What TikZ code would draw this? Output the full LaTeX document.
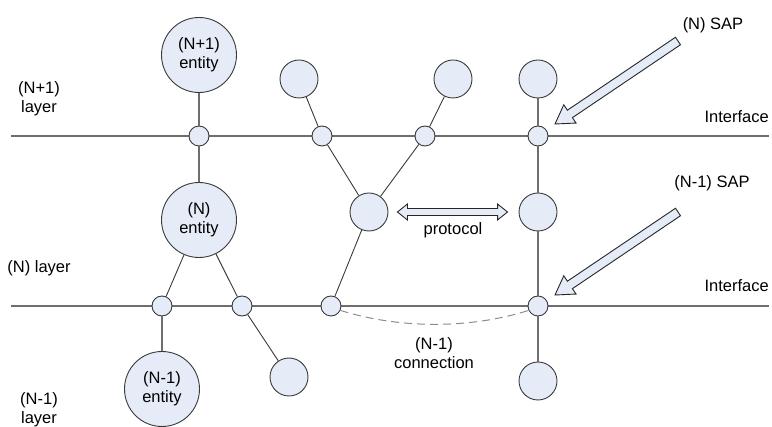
\documentclass[tikz,border=0pt]{standalone}
\usepackage{fontspec}
\setmainfont{Liberation Sans}
\usetikzlibrary{calc}
\definecolor{fillblue}{HTML}{E5ECF7}
\definecolor{rulegray}{HTML}{6E6E6E}
\definecolor{edgegray}{HTML}{3A3A3A}
\definecolor{dashgray}{HTML}{8C8C8C}
\tikzset{
  ent/.style={circle, draw=edgegray, fill=fillblue, line width=0.9pt,
    minimum size=75pt, inner sep=0pt, align=center,
    font=\fontsize{16.5}{19}\selectfont},
  midc/.style={ent, minimum size=38pt},
  sappt/.style={ent, minimum size=20pt},
  link/.style={draw=edgegray, line width=0.9pt},
  vlink/.style={draw=rulegray, line width=1.3pt},
  iface/.style={draw=rulegray, line width=1.4pt},
  lbl/.style={font=\fontsize{16.5}{19}\selectfont, align=center, inner sep=0pt},
  blockarrow/.style={draw=black!85, fill=fillblue, line width=0.9pt, line join=miter},
}
% hollow single-headed arrow: tail, tip, shaft half width, head half width, head length
\newcommand\fatarrow[5]{%
  \coordinate (fa-c) at ($(#2)!#5!(#1)$);
  \draw[blockarrow] ($(#1)!#3!90:(#2)$) -- ($(fa-c)!#3!90:(#2)$)
    -- ($(fa-c)!#4!90:(#2)$) -- (#2) -- ($(fa-c)!#4!-90:(#2)$)
    -- ($(fa-c)!#3!-90:(#2)$) -- ($(#1)!#3!-90:(#2)$) -- cycle;}
% hollow double-headed arrow: end, end, shaft half width, head half width, head length
\newcommand\fatdarrow[5]{%
  \coordinate (fd-a) at ($(#1)!#5!(#2)$);
  \coordinate (fd-b) at ($(#2)!#5!(#1)$);
  \draw[blockarrow] (#1) -- ($(fd-a)!#4!90:(#2)$) -- ($(fd-a)!#3!90:(#2)$)
    -- ($(fd-b)!#3!90:(#2)$) -- ($(fd-b)!#4!90:(#2)$) -- (#2)
    -- ($(fd-b)!#4!-90:(#2)$) -- ($(fd-b)!#3!-90:(#2)$)
    -- ($(fd-a)!#3!-90:(#2)$) -- ($(fd-a)!#4!-90:(#2)$) -- cycle;}
\begin{document}
\begin{tikzpicture}[x=1pt,y=-1pt]
\useasboundingbox (0,0) rectangle (772,427);

% interface lines
\coordinate (upL) at (11,136);  \coordinate (upR) at (769,136);
\coordinate (loL) at (11,306);  \coordinate (loR) at (769,306);
\draw[iface] (upL) -- (upR);
\draw[iface] (loL) -- (loR);

% entities
\node[ent]   (e1)  at (199,55)  {(N+1)\\entity};
\node[ent]   (e0)  at (199,220) {(N)\\entity};
\node[ent]   (em)  at (162,389) {(N-1)\\entity};
\node[midc]  (ta)  at (299,79)  {};
\node[midc]  (tb)  at (453,79)  {};
\node[midc]  (tc)  at (538,79)  {};
\node[midc]  (ma)  at (369,212) {};
\node[midc]  (mb)  at (538,212) {};
\node[midc]  (ba)  at (289,377) {};
\node[midc]  (bb)  at (538,381) {};

% service access points
\node[sappt] (s1)  at (199,136) {};
\node[sappt] (s2)  at (322,136) {};
\node[sappt] (s3)  at (425,136) {};
\node[sappt] (s4)  at (538,136) {};
\node[sappt] (s5)  at (162,306) {};
\node[sappt] (s6)  at (242,306) {};
\node[sappt] (s7)  at (331,306) {};
\node[sappt] (s8)  at (538,306) {};

% links between entities and SAPs
\draw[vlink] (e1) -- (s1);
\draw[vlink] (s1) -- (e0);
\draw[link] (ta) -- (s2);
\draw[link] (s2) -- (ma);
\draw[link] (tb) -- (s3);
\draw[link] (s3) -- (ma);
\draw[vlink] (tc) -- (s4);
\draw[vlink] (s4) -- (mb);
\draw[vlink] (mb) -- (s8);
\draw[vlink] (s8) -- (bb);
\draw[link] (e0) -- (s5);
\draw[vlink] (s5) -- (em);
\draw[link] (e0) -- (s6);
\draw[link] (s6) -- (ba);
\draw[link] (ma) -- (s7);

% (N-1) connection
\draw[dashgray, line width=1pt, dash pattern=on 8pt off 5pt]
  (s7.-25) .. controls (400,329) and (470,329) .. (s8.-155);

% protocol arrow
\coordinate (prL) at ($(ma.east)+(9,0)$);
\coordinate (prR) at ($(mb.west)+(-11,0)$);
\fatdarrow{prL}{prR}{3.5pt}{8pt}{10pt}

% SAP pointers
\coordinate (sapNtail) at (678,41);  \coordinate (sapNtip) at (555,124);
\coordinate (sapMtail) at (678,212); \coordinate (sapMtip) at (555,295);
\fatarrow{sapNtail}{sapNtip}{4.5pt}{11pt}{18pt}
\fatarrow{sapMtail}{sapMtip}{4.5pt}{11pt}{18pt}

% labels
\node[lbl] (lN1)  at (39,99)   {(N+1)\\layer};
\node[lbl] (lN)   at (39,268)  {(N) layer};
\node[lbl] (lNm)  at (39,410)  {(N-1)\\layer};
\node[lbl] (lsN)  at (713,25)  {(N) SAP};
\node[lbl] (lsNm) at (712,183) {(N-1) SAP};
\node[lbl, anchor=east] (if1) at (769,117) {Interface};
\node[lbl, anchor=east] (if2) at (769,286) {Interface};
\node[lbl] (lpr)  at (453,230) {protocol};
\node[lbl] (lcon) at (434,353) {(N-1)\\connection};
\end{tikzpicture}
\end{document}
